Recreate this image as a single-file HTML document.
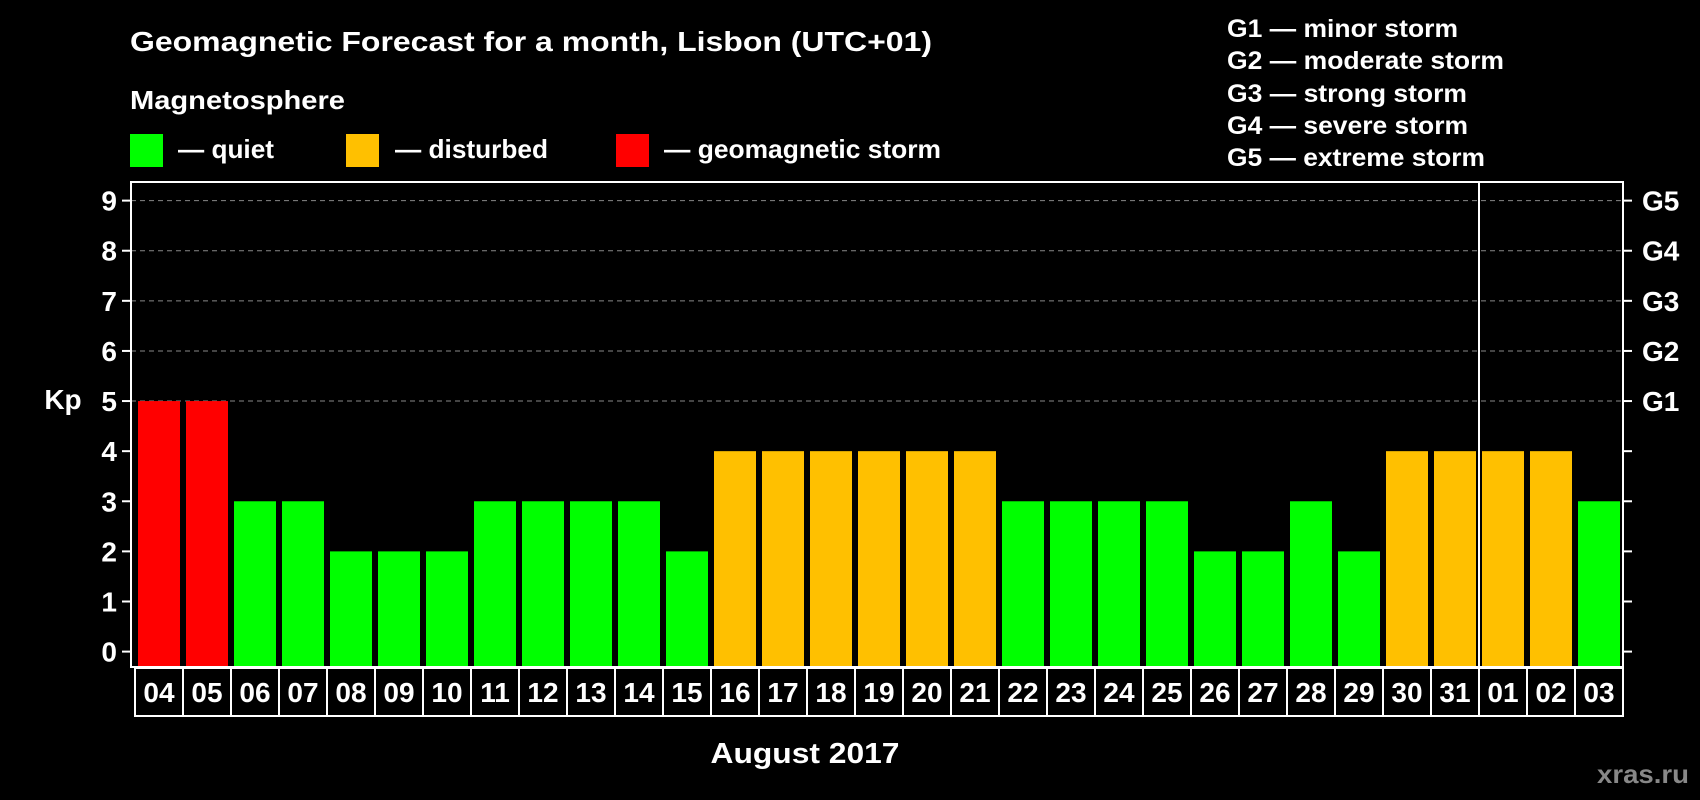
<!DOCTYPE html>
<html><head><meta charset="utf-8"><style>
html,body{margin:0;padding:0;background:#000;}
svg{display:block;font-family:"Liberation Sans",Arial,sans-serif;font-weight:bold;}
</style></head><body>
<svg id="c" width="1700" height="800" viewBox="0 0 1700 800">
<text x="130" y="51" fill="#fff" font-size="28" textLength="802" lengthAdjust="spacingAndGlyphs">Geomagnetic Forecast for a month, Lisbon (UTC+01)</text>
<text x="130" y="109" fill="#fff" font-size="26" textLength="215" lengthAdjust="spacingAndGlyphs">Magnetosphere</text>
<g><rect x="130" y="134" width="33" height="33" fill="#00ff00"/><text x="178" y="158" fill="#fff" font-size="26" textLength="96" lengthAdjust="spacingAndGlyphs">— quiet</text></g>
<g><rect x="346" y="134" width="33" height="33" fill="#ffc000"/><text x="395" y="158" fill="#fff" font-size="26" textLength="153" lengthAdjust="spacingAndGlyphs">— disturbed</text></g>
<g><rect x="616" y="134" width="33" height="33" fill="#ff0000"/><text x="664" y="158" fill="#fff" font-size="26" textLength="277" lengthAdjust="spacingAndGlyphs">— geomagnetic storm</text></g>
<g fill="#fff" font-size="25">
<text x="1227" y="37" textLength="231" lengthAdjust="spacingAndGlyphs">G1 — minor storm</text>
<text x="1227" y="69" textLength="277" lengthAdjust="spacingAndGlyphs">G2 — moderate storm</text>
<text x="1227" y="102" textLength="240" lengthAdjust="spacingAndGlyphs">G3 — strong storm</text>
<text x="1227" y="134" textLength="241" lengthAdjust="spacingAndGlyphs">G4 — severe storm</text>
<text x="1227" y="166" textLength="258" lengthAdjust="spacingAndGlyphs">G5 — extreme storm</text>
</g>
<text x="63" y="409" fill="#fff" font-size="28" text-anchor="middle">Kp</text>
<text x="805" y="763" fill="#fff" font-size="29" text-anchor="middle" textLength="189" lengthAdjust="spacingAndGlyphs">August 2017</text>
<text x="1597" y="783" fill="#888" font-size="26" textLength="92" lengthAdjust="spacingAndGlyphs">xras.ru</text>
<g id="grid"></g><g id="bars"></g><g id="axes"></g>
</svg>
<script>
const days=["04","05","06","07","08","09","10","11","12","13","14","15","16","17","18","19","20","21","22","23","24","25","26","27","28","29","30","31","01","02","03"];
const kp=[5,5,3,3,2,2,2,3,3,3,3,2,4,4,4,4,4,4,3,3,3,3,2,2,3,2,4,4,4,4,3];
const yTicks=[0,1,2,3,4,5,6,7,8,9];
const gLabels=["G1","G2","G3","G4","G5"];
const ns="http://www.w3.org/2000/svg";
const L=131,R=1623,T=182,B=667;
const y=v=>651.6-v*50.11;
const x=i=>135+i*48;
function mk(p,t,a){const e=document.createElementNS(ns,t);for(const k in a)e.setAttribute(k,a[k]);p.appendChild(e);return e;}
const grid=document.getElementById('grid'),bars=document.getElementById('bars'),axes=document.getElementById('axes');
yTicks.forEach(v=>{
 if(v>=5){const g=mk(grid,'line',{x1:L,x2:R,y1:y(v),y2:y(v),stroke:'#888','stroke-dasharray':'5,4','stroke-width':1});
 
 }
 const t=mk(axes,'line',{x1:L-9,x2:L,y1:y(v),y2:y(v),stroke:'#fff','stroke-width':2});
 
 
 const t2=mk(axes,'line',{x1:R,x2:R+9,y1:y(v),y2:y(v),stroke:'#fff','stroke-width':2});
 
 
 const l=mk(axes,'text',{x:117,y:y(v)+10,fill:'#fff','font-size':28,'text-anchor':'end'});l.textContent=v;
 
 
});
gLabels.forEach((g,i)=>{const l=mk(axes,'text',{x:1642,y:y(5+i)+10,fill:'#fff','font-size':28});l.textContent=g;
 
 });
kp.forEach((v,i)=>{
 const c=v>=5?'#ff0000':v>=4?'#ffc000':'#00ff00';
 const r=mk(bars,'rect',{x:x(i)+3,y:y(v),width:42,height:B-1-y(v),fill:c});
 
 
 const b=mk(axes,'rect',{x:x(i),y:B+1,width:48,height:48,fill:'none',stroke:'#fff','stroke-width':2});
 
 
 const t=mk(axes,'text',{x:x(i)+24,y:B+35,fill:'#fff','font-size':28,'text-anchor':'middle'});t.textContent=days[i];
 
 
});
const fr=mk(axes,'rect',{x:L,y:T,width:R-L,height:B-T,fill:'none',stroke:'#fff','stroke-width':2});


const mi=days.indexOf("01");
const sep=mk(axes,'line',{x1:x(mi),x2:x(mi),y1:T,y2:B+49,stroke:'#fff','stroke-width':2});


</script>
</body></html>
